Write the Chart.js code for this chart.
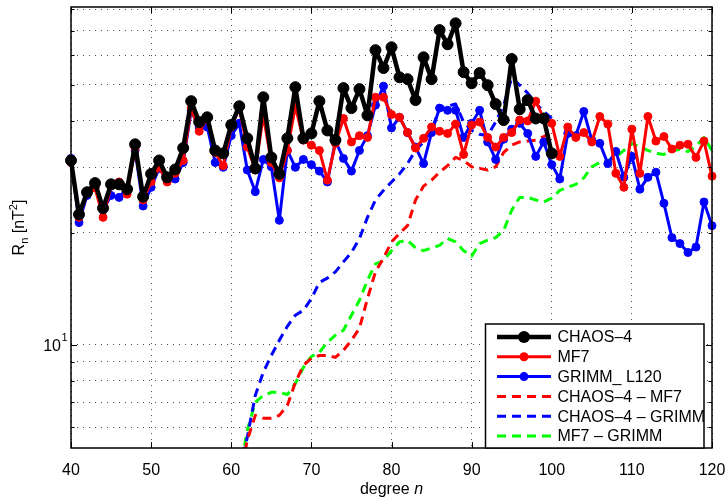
<!DOCTYPE html>
<html>
<head>
<meta charset="utf-8">
<script src="https://cdn.jsdelivr.net/npm/chart.js@4.4.0/dist/chart.umd.min.js"></script>
<style>
  html, body { margin: 0; padding: 0; background: #fff; }
  #wrap { width: 727px; height: 499px; }
</style>
</head>
<body>
<div id="wrap"><canvas id="chart" width="727" height="499"></canvas></div>
<script>
// spherical harmonic degree n
const degrees = [40, 41, 42, 43, 44, 45, 46, 47, 48, 49,
  50, 51, 52, 53, 54, 55, 56, 57, 58, 59,
  60, 61, 62, 63, 64, 65, 66, 67, 68, 69,
  70, 71, 72, 73, 74, 75, 76, 77, 78, 79,
  80, 81, 82, 83, 84, 85, 86, 87, 88, 89,
  90, 91, 92, 93, 94, 95, 96, 97, 98, 99,
  100, 101, 102, 103, 104, 105, 106, 107, 108, 109,
  110, 111, 112, 113, 114, 115, 116, 117, 118, 119, 120];

// R_n [nT^2], n = 40..100
const chaos4 = [31.3, 22.4, 25.7, 27.2, 23.3, 27.0, 27.0, 26.2, 34.6, 25.0,
  28.8, 31.3, 28.2, 29.6, 33.8, 45.2, 39.7, 40.9, 33.3, 32.7,
  39.0, 43.8, 35.9, 29.8, 46.3, 31.9, 28.8, 35.9, 49.3, 35.9,
  37.0, 45.2, 37.7, 35.5, 49.0, 43.3, 48.7, 41.4, 62.0, 55.5,
  63.1, 52.4, 51.8, 45.5, 59.3, 51.8, 70.2, 64.3, 73.2, 54.1,
  50.5, 53.8, 49.9, 44.4, 40.2, 58.7, 43.0, 45.5, 40.6, 40.6,
  32.7];

// n = 40..120
const mf7 = [30.9, 22.0, 25.5, 26.4, 22.0, 26.7, 27.4, 25.4, 33.8, 24.5,
  27.4, 30.0, 27.4, 28.9, 31.3, 43.3, 37.5, 40.6, 32.9, 30.3,
  38.5, 43.3, 34.0, 29.5, 41.4, 30.9, 28.1, 33.3, 43.8, 35.5,
  34.4, 33.3, 27.7, 34.8, 40.6, 35.1, 36.5, 36.1, 46.3, 46.3,
  41.6, 40.9, 37.2, 33.8, 35.9, 38.5, 37.5, 37.0, 39.2, 32.5,
  39.0, 39.7, 36.1, 34.0, 36.1, 37.2, 40.2, 40.0, 45.2, 40.6,
  39.4, 32.1, 38.5, 36.1, 37.2, 35.1, 41.1, 39.2, 28.9, 26.5,
  38.0, 28.9, 41.1, 35.3, 36.3, 33.6, 34.4, 34.6, 31.9, 35.3,
  28.4];

// n = 40..120
const grimm = [31.7, 21.3, 25.2, 26.5, 23.0, 25.2, 24.9, 26.4, 33.3, 23.6,
  26.5, 29.8, 27.7, 27.9, 30.9, 42.7, 38.3, 38.5, 30.9, 30.0,
  36.5, 39.4, 29.5, 25.8, 31.5, 30.1, 21.6, 33.3, 30.0, 31.5,
  30.5, 29.3, 27.4, 35.3, 31.7, 29.3, 33.3, 36.5, 44.1, 49.6,
  38.3, 40.9, 37.2, 34.0, 30.7, 37.2, 43.3, 42.7, 42.7, 36.1,
  39.4, 42.7, 35.1, 31.5, 35.7, 38.0, 39.4, 37.0, 32.1, 35.1,
  30.5, 27.9, 37.0, 36.5, 42.4, 35.5, 34.8, 30.7, 33.1, 28.2,
  32.1, 26.2, 28.2, 29.1, 24.0, 19.4, 18.7, 17.7, 18.3, 24.2,
  20.9];

// differences, n = 61..100
const chaosMinusMf7 = [4.3, 5.53, 6.45, 6.34, 6.34, 6.45, 6.86, 7.91, 8.79,
  9.19, 9.35, 9.35, 9.24, 9.65, 10.27, 11.07, 13.3, 15.7, 17.1,
  18.9, 19.9, 20.9, 24.5, 26.7, 27.7, 29.1, 30.3, 31.9, 31.3,
  30.1, 29.8, 29.5, 30.1, 32.9, 34.4, 35.1, 35.3, 35.5, 36.3,
  37.2];

const chaosMinusGrimm = [4.59, 5.63, 7.30, 8.43, 9.35, 10.27, 11.2, 12.0, 12.37,
  13.3, 14.7, 15.1, 15.7, 16.7, 17.7, 19.3, 22.0, 24.5, 26.0,
  27.4, 28.8, 30.7, 33.3, 35.1, 37.7, 43.3, 43.8, 44.4, 39.7,
  37.7, 36.8, 36.5, 39.7, 44.1, 52.2, 49.9, 47.5, 44.6, 42.4,
  40.6];

// n = 61..120
const mf7MinusGrimm = [4.45, 5.88, 7.0, 7.30, 7.44, 7.44, 7.34, 7.86, 8.68,
  9.29, 9.53, 10.15, 10.6, 10.93, 12.0, 13.16, 14.9, 16.5, 16.8,
  17.9, 18.9, 19.1, 18.2, 17.9, 18.2, 18.5, 19.3, 18.9, 17.9,
  17.3, 18.7, 19.1, 19.4, 20.3, 23.0, 24.9, 24.9, 24.5, 24.2,
  24.8, 26.0, 26.5, 27.0, 28.1, 30.1, 30.9, 31.3, 31.9, 33.3,
  34.8, 34.0, 33.3, 32.7, 32.5, 33.3, 33.5, 33.1, 34.2, 36.1,
  33.3];

const xTicks = [40, 50, 60, 70, 80, 90, 100, 110, 120];
const yTicks = [6, 7, 8, 9, 10, 20, 30, 40, 50, 60, 70, 80];
const yMin = 5.27;
const yMax = 81;

const FONT = "'Liberation Sans', Arial, Helvetica, sans-serif";

function toPoints(values, degs) {
  return values.map((v, i) => ({ x: degs[i], y: v }));
}
const diffDegs = degrees.slice(21); // from n = 61

function solid(label, values, color, width, radius) {
  return {
    label: label,
    data: toPoints(values, degrees),
    borderColor: color,
    backgroundColor: color,
    borderWidth: width,
    borderJoinStyle: "round",
    borderCapStyle: "round",
    pointRadius: radius,
    pointBorderWidth: 1,
    pointBackgroundColor: color,
    pointBorderColor: color,
    tension: 0,
    clip: false
  };
}
function dashed(label, values, color) {
  return {
    label: label,
    data: toPoints(values, diffDegs),
    borderColor: color,
    backgroundColor: color,
    borderWidth: 3,
    borderDash: [9, 6],
    borderJoinStyle: "round",
    pointRadius: 0,
    tension: 0,
    clip: 0
  };
}

// MATLAB-style frame: box, inward ticks, 10^1 label, axis titles, legend
const frameDecor = {
  id: "frameDecor",
  afterDraw(chart) {
    const { ctx, chartArea: a, scales } = chart;
    const xs = scales.x, ys = scales.y;
    ctx.save();
    ctx.setLineDash([]);
    ctx.strokeStyle = "#000";
    ctx.lineWidth = 1;
    ctx.beginPath();
    xTicks.forEach((v) => {
      const px = Math.round(xs.getPixelForValue(v)) + 0.5;
      ctx.moveTo(px, a.bottom); ctx.lineTo(px, a.bottom - 6);
      ctx.moveTo(px, a.top); ctx.lineTo(px, a.top + 6);
    });
    yTicks.forEach((v) => {
      const py = Math.round(ys.getPixelForValue(v)) + 0.5;
      const len = v === 10 ? 6 : 3.5;
      ctx.moveTo(a.left, py); ctx.lineTo(a.left + len, py);
      ctx.moveTo(a.right, py); ctx.lineTo(a.right - len, py);
    });
    ctx.stroke();

    ctx.lineWidth = 1.5;
    ctx.strokeRect(a.left, a.top, a.right - a.left, a.bottom - a.top);

    // y tick label 10^1
    ctx.fillStyle = "#000";
    const p10 = ys.getPixelForValue(10);
    ctx.font = "16px " + FONT;
    ctx.textAlign = "right";
    ctx.textBaseline = "alphabetic";
    ctx.fillText("10", 61, p10 + 6);
    ctx.font = "11px " + FONT;
    ctx.textAlign = "left";
    ctx.fillText("1", 61.5, p10 - 3.5);

    // x title: degree n
    const cx = (a.left + a.right) / 2;
    ctx.font = "16px " + FONT;
    const w1 = ctx.measureText("degree ").width;
    ctx.font = "italic 16px " + FONT;
    const w2 = ctx.measureText("n").width;
    let x0 = cx - (w1 + w2) / 2;
    ctx.font = "16px " + FONT;
    ctx.fillText("degree ", x0, 494);
    ctx.font = "italic 16px " + FONT;
    ctx.fillText("n", x0 + w1, 494);

    // y title: R_n [nT^2]
    const parts = [
      { t: "R", size: 16, dy: 0 },
      { t: "n", size: 11, dy: 4 },
      { t: " [nT", size: 16, dy: 0 },
      { t: "2", size: 11, dy: -7 },
      { t: "]", size: 16, dy: 0 }
    ];
    let total = 0;
    parts.forEach((p) => {
      ctx.font = p.size + "px " + FONT;
      p.w = ctx.measureText(p.t).width;
      total += p.w;
    });
    ctx.save();
    ctx.translate(24, (a.top + a.bottom) / 2);
    ctx.rotate(-Math.PI / 2);
    let tx = -total / 2;
    parts.forEach((p) => {
      ctx.font = p.size + "px " + FONT;
      ctx.fillText(p.t, tx, p.dy);
      tx += p.w;
    });
    ctx.restore();

    // legend box
    const lx = 485.5, ly = 324, lw = 218.5, lh = 124;
    ctx.fillStyle = "#fff";
    ctx.fillRect(lx, ly, lw, lh);
    ctx.lineWidth = 1.5;
    ctx.strokeStyle = "#000";
    ctx.strokeRect(lx, ly, lw, lh);
    ctx.font = "16px " + FONT;
    ctx.textBaseline = "middle";
    chart.data.datasets.forEach((ds, i) => {
      const y = 337 + i * 19.8;
      ctx.save();
      ctx.strokeStyle = ds.borderColor;
      ctx.lineWidth = ds.borderWidth;
      ctx.setLineDash(ds.borderDash || []);
      ctx.beginPath();
      ctx.moveTo(497, y);
      ctx.lineTo(551, y);
      ctx.stroke();
      if (ds.pointRadius > 0) {
        ctx.fillStyle = ds.borderColor;
        ctx.beginPath();
        ctx.arc(524, y, ds.pointRadius + 0.5, 0, Math.PI * 2);
        ctx.fill();
      }
      ctx.restore();
      ctx.fillStyle = "#000";
      ctx.textAlign = "left";
      ctx.fillText(ds.label, 557.5, y + 1);
    });
    ctx.restore();
  }
};

new Chart(document.getElementById("chart"), {
  type: "line",
  data: {
    datasets: [
      solid("CHAOS–4", chaos4, "#000000", 4.5, 5.5),
      solid("MF7", mf7, "#ff0000", 3, 4),
      solid("GRIMM_ L120", grimm, "#0000ff", 3, 4),
      dashed("CHAOS–4 – MF7", chaosMinusMf7, "#ff0000"),
      dashed("CHAOS–4 – GRIMM", chaosMinusGrimm, "#0000ff"),
      dashed("MF7 – GRIMM", mf7MinusGrimm, "#00ff00")
    ]
  },
  options: {
    responsive: false,
    devicePixelRatio: 1,
    animation: false,
    layout: { padding: { left: 0, top: 7, right: 15, bottom: 0 } },
    plugins: {
      legend: { display: false },
      tooltip: { enabled: false }
    },
    scales: {
      x: {
        type: "linear",
        min: 40,
        max: 120,
        ticks: {
          stepSize: 10,
          color: "#000",
          font: { family: FONT, size: 16 },
          padding: 13,
          maxRotation: 0
        },
        grid: { color: "rgba(0,0,0,0.7)", lineWidth: 1, drawTicks: false },
        border: { display: false, dash: [1, 5] },
        afterFit(scale) {
          scale.height = 51;
          scale.paddingLeft = 0;
          scale.paddingRight = 0;
        }
      },
      y: {
        type: "logarithmic",
        min: yMin,
        max: yMax,
        ticks: { display: false },
        afterBuildTicks(scale) {
          scale.ticks = yTicks.map((v) => ({ value: v }));
        },
        grid: { color: "rgba(0,0,0,0.7)", lineWidth: 1, drawTicks: false },
        border: { display: false, dash: [1, 5] },
        afterFit(scale) { scale.width = 71; }
      }
    }
  },
  plugins: [frameDecor]
});
</script>
</body>
</html>
